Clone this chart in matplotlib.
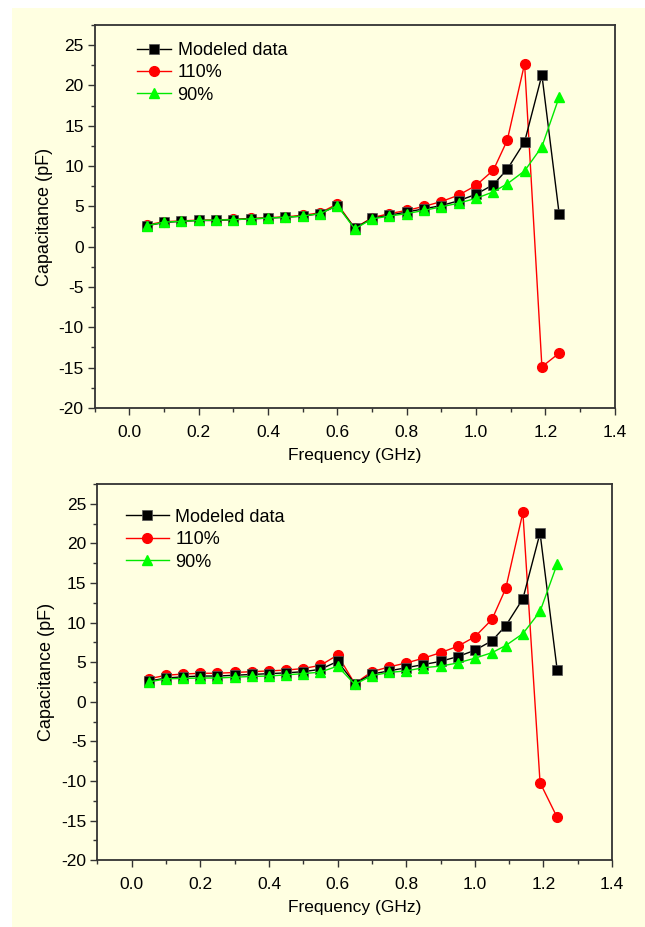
import matplotlib
matplotlib.use("Agg")
import matplotlib.pyplot as plt
from matplotlib.patches import Rectangle
from matplotlib.ticker import MultipleLocator

plt.rcParams["font.family"] = ["Liberation Sans", "DejaVu Sans"]
plt.rcParams["axes.unicode_minus"] = False

# ---- datos ----
freq = [0.05, 0.10, 0.15, 0.20, 0.25, 0.30, 0.35, 0.40, 0.45, 0.50,
        0.55, 0.60, 0.65, 0.70, 0.75, 0.80, 0.85, 0.90, 0.95, 1.00,
        1.05, 1.09, 1.14, 1.19, 1.24]

modeled = [2.6, 3.0, 3.15, 3.25, 3.25, 3.35, 3.45, 3.55, 3.65, 3.8,
           4.1, 5.1, 2.3, 3.5, 3.9, 4.3, 4.7, 5.1, 5.7, 6.5,
           7.7, 9.6, 13.0, 21.3, 4.0]

# panel superior
top_110 = [2.7, 3.1, 3.2, 3.3, 3.3, 3.4, 3.5, 3.6, 3.7, 3.9,
           4.2, 5.3, 2.3, 3.6, 4.1, 4.5, 5.0, 5.6, 6.4, 7.6,
           9.5, 13.2, 22.7, -14.9, -13.2]
top_90 = [2.6, 3.05, 3.15, 3.25, 3.3, 3.35, 3.45, 3.55, 3.65, 3.8,
          4.1, 5.1, 2.2, 3.45, 3.8, 4.1, 4.5, 4.95, 5.4, 6.0,
          6.8, 7.8, 9.4, 12.4, 18.6]

# panel inferior
bot_110 = [2.9, 3.35, 3.5, 3.6, 3.6, 3.7, 3.8, 3.9, 4.0, 4.2,
           4.6, 5.9, 2.3, 3.8, 4.4, 4.9, 5.5, 6.2, 7.0, 8.2,
           10.4, 14.3, 23.9, -10.2, -14.6]
bot_90 = [2.5, 2.9, 2.95, 3.0, 3.0, 3.1, 3.2, 3.25, 3.4, 3.55,
          3.75, 4.5, 2.2, 3.3, 3.7, 3.9, 4.3, 4.5, 4.9, 5.5,
          6.2, 7.1, 8.6, 11.4, 17.4]

labels = ["Modeled data", "110%", "90%"]
xticks = [0.0, 0.2, 0.4, 0.6, 0.8, 1.0, 1.2, 1.4]
yticks = [-20, -15, -10, -5, 0, 5, 10, 15, 20, 25]

fondo = "#FFFFE1"
fs = 12.5

fig = plt.figure(figsize=(6.45, 9.27), dpi=100)
fig.patch.set_facecolor("white")
fig.patches.append(Rectangle((12 / 645, 0), 1, 1 - 8 / 927,
                             transform=fig.transFigure, facecolor=fondo,
                             edgecolor="none", zorder=-10))


def panel(rect, y110, y90, leg_xy, leg_hl):
    ax = fig.add_axes(rect)
    ax.set_facecolor(fondo)
    ax.plot(freq, modeled, "-s", color="black", lw=1.0, ms=6.5,
            mec="#555555", mew=0.5, label=labels[0], zorder=3)
    ax.plot(freq, y110, "-o", color="#FF0000", lw=1.0, ms=7,
            mec="#FF0000", label=labels[1], zorder=2)
    ax.plot(freq, y90, "-^", color="#00E800", lw=1.0, ms=7.5,
            mfc="#00FF00", mec="#00FF00", label=labels[2], zorder=4)

    ax.set_xlim(-0.1, 1.4)
    ax.set_ylim(-20, 27.5)
    ax.set_xticks(xticks)
    ax.set_yticks(yticks)
    ax.set_xticklabels([f"{t:.1f}" for t in xticks])
    ax.xaxis.set_minor_locator(MultipleLocator(0.1))
    ax.yaxis.set_minor_locator(MultipleLocator(2.5))
    ax.tick_params(which="both", direction="out", top=False, right=False,
                   labelsize=fs, color="#333333")
    ax.tick_params(which="major", length=5, width=1.0)
    ax.tick_params(axis="x", which="major", pad=7)
    ax.tick_params(axis="y", which="major", pad=3)
    ax.tick_params(which="minor", length=3, width=1.0)
    for s in ax.spines.values():
        s.set_linewidth(1.3)
        s.set_color("#333333")

    ax.set_xlabel("Frequency (GHz)", fontsize=fs, labelpad=6)
    ax.set_ylabel("Capacitance (pF)", fontsize=13, labelpad=4)

    ax.legend(loc="upper left", bbox_to_anchor=leg_xy, frameon=False,
              fontsize=13, numpoints=1, handlelength=leg_hl,
              labelspacing=0.3, handletextpad=0.35,
              borderaxespad=0, borderpad=0)
    return ax


panel([0.147, 0.560, 0.806, 0.413], top_110, top_90, (0.081, 0.956), 1.9)
panel([0.151, 0.072, 0.798, 0.406], bot_110, bot_90, (0.055, 0.934), 2.4)

fig.savefig("out.png", dpi=100, facecolor=fig.get_facecolor())
plt.close(fig)
